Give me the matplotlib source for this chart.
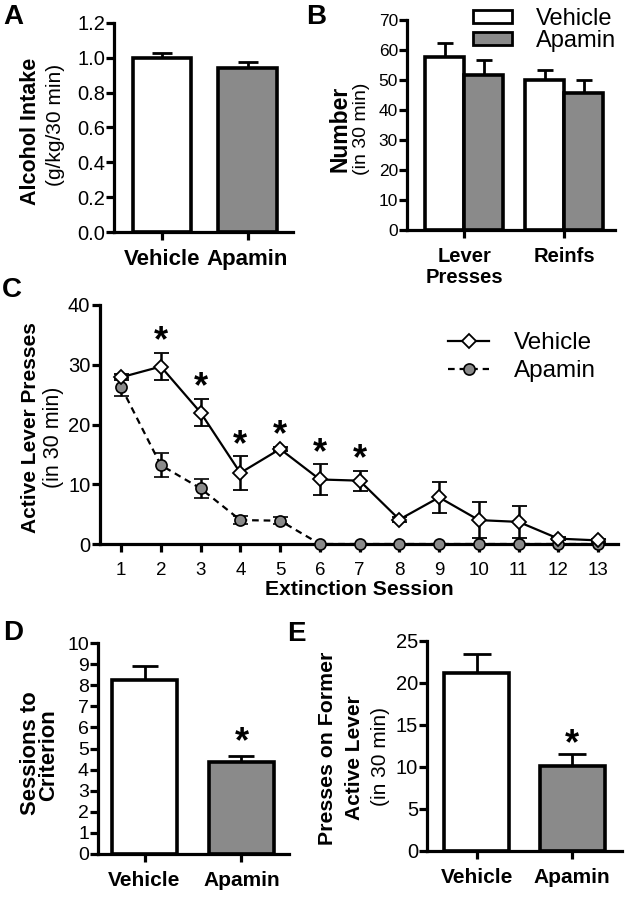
import matplotlib
matplotlib.use('Agg')
import matplotlib.pyplot as plt
import numpy as np
from matplotlib.patches import Patch
from matplotlib.lines import Line2D

plt.rcParams['font.family'] = ['Liberation Sans', 'DejaVu Sans']

# ---------------- data ----------------
A_groups = ['Vehicle', 'Apamin']
A_means = [1.00, 0.94]
A_sem = [0.03, 0.034]

B_categories = ['Lever\nPresses', 'Reinfs']
B_vehicle = [57.6, 49.9]
B_vehicle_sem = [4.8, 3.3]
B_apamin = [51.6, 45.6]
B_apamin_sem = [5.1, 4.3]

C_sessions = [1, 2, 3, 4, 5, 6, 7, 8, 9, 10, 11, 12, 13]
C_vehicle = [27.9, 29.7, 22.0, 11.9, 15.9, 10.8, 10.6, 4.1, 7.8, 4.0, 3.7, 0.9, 0.6]
C_vehicle_sem = [0.5, 2.3, 2.3, 2.8, 0.4, 2.6, 1.7, 0.4, 2.6, 3.0, 2.7, 0.3, 0.3]
C_apamin = [26.3, 13.2, 9.3, 4.0, 3.9, 0, 0, 0, 0, 0, 0, 0, 0]
C_apamin_sem = [1.5, 2.0, 1.6, 0.7, 0.6, 0, 0, 0, 0, 0, 0, 0, 0]
C_significant = [2, 3, 4, 5, 6, 7]

D_groups = ['Vehicle', 'Apamin']
D_means = [8.26, 4.36]
D_sem = [0.67, 0.30]

E_groups = ['Vehicle', 'Apamin']
E_means = [21.2, 10.1]
E_sem = [2.3, 1.4]

# ---------------- figure ----------------
W, H = 628, 900
fig = plt.figure(figsize=(W / 100, H / 100), dpi=100)
GRAY = '#8a8a8a'
LW = 2.3
BLW = 2.6


def add_ax(x0, y0, x1, y1):
    return fig.add_axes([x0 / W, 1 - y1 / H, (x1 - x0) / W, (y1 - y0) / H])


def style(ax, ysize):
    for s in ['top', 'right']:
        ax.spines[s].set_visible(False)
    for s in ['left', 'bottom']:
        ax.spines[s].set_linewidth(LW)
    ax.tick_params(axis='y', direction='out', length=5.5, width=LW, labelsize=ysize, pad=1)
    ax.tick_params(axis='x', direction='out', length=6, width=LW, pad=6)


def ftext(x, y, s, **kw):
    fig.text(x / W, 1 - y / H, s, **kw)


def bar_panel(ax, groups, means, sem, capsize, width, xsize):
    x = np.arange(len(groups))
    ax.bar(x, means, width=width, color=['white', GRAY], edgecolor='black',
           linewidth=BLW, zorder=2)
    ax.errorbar(x, means, yerr=[np.zeros(len(means)), sem], fmt='none', ecolor='black',
                elinewidth=2.0, capsize=capsize, capthick=2.0, zorder=1)
    ax.set_xticks(x)
    ax.set_xticklabels(groups, fontsize=xsize, fontweight='bold')
    return x


# ---- Panel A ----
axA = add_ax(114, 23, 293, 232)
style(axA, 14.5)
bar_panel(axA, A_groups, A_means, A_sem, 7, 0.68, 16)
axA.set_ylim(0, 1.2)
axA.set_yticks(np.arange(0, 1.21, 0.2))
axA.set_yticklabels(['%.1f' % v for v in np.arange(0, 1.21, 0.2)])
axA.set_xlim(-0.56, 1.53)
ftext(30, 131, 'Alcohol Intake', rotation=90, ha='center', va='center', fontsize=15.5, fontweight='bold')
ftext(56, 125, '(g/kg/30 min)', rotation=90, ha='center', va='center', fontsize=15)

# ---- Panel B ----
axB = add_ax(407, 20, 615, 230)
style(axB, 12.5)
xB = np.arange(len(B_categories))
bw = 0.39
axB.bar(xB - bw / 2, B_vehicle, width=bw, color='white', edgecolor='black', linewidth=BLW, zorder=2)
axB.bar(xB + bw / 2, B_apamin, width=bw, color=GRAY, edgecolor='black', linewidth=BLW, zorder=2)
axB.errorbar(xB - bw / 2, B_vehicle, yerr=[np.zeros(2), B_vehicle_sem], fmt='none', ecolor='black',
             elinewidth=2.0, capsize=6, capthick=2.0, zorder=1)
axB.errorbar(xB + bw / 2, B_apamin, yerr=[np.zeros(2), B_apamin_sem], fmt='none', ecolor='black',
             elinewidth=2.0, capsize=6, capthick=2.0, zorder=1)
axB.set_ylim(0, 70)
axB.set_yticks(np.arange(0, 71, 10))
axB.set_xlim(-0.57, 1.505)
axB.set_xticks(xB)
axB.set_xticklabels(B_categories, fontsize=14.5, fontweight='bold', linespacing=1.15)
axB.tick_params(axis='x', pad=6)
ftext(340, 129, 'Number', rotation=90, ha='center', va='center', fontsize=16.5, fontweight='bold')
ftext(361, 129, '(in 30 min)', rotation=90, ha='center', va='center', fontsize=14)
hB = [Patch(facecolor='white', edgecolor='black', linewidth=2.0),
      Patch(facecolor=GRAY, edgecolor='black', linewidth=2.0)]
axB.legend(hB, ['Vehicle', 'Apamin'], loc='upper left', bbox_to_anchor=(473 / W, 1 - 8 / H),
           bbox_transform=fig.transFigure, frameon=False, fontsize=17, handlelength=1.65,
           handleheight=0.5, handletextpad=1.0, labelspacing=0.0, borderpad=0, borderaxespad=0)

# ---- Panel C ----
axC = add_ax(100, 305, 618, 544)
style(axC, 14.5)
axC.tick_params(axis='x', labelsize=13.5, length=6, pad=7)
axC.tick_params(axis='y', length=6)
axC.errorbar(C_sessions, C_apamin, yerr=C_apamin_sem, fmt='--o', color='black', lw=1.6,
             dashes=(3, 2.2), markersize=8, markerfacecolor=GRAY, markeredgecolor='black',
             markeredgewidth=1.2, elinewidth=1.8, capsize=5.4, capthick=1.8, clip_on=False,
             zorder=3, label='Apamin')
axC.errorbar(C_sessions, C_vehicle, yerr=C_vehicle_sem, fmt='-D', color='black', lw=1.6,
             markersize=7, markerfacecolor='white', markeredgecolor='black',
             markeredgewidth=1.3, elinewidth=1.8, capsize=5.4, capthick=1.8, clip_on=False,
             zorder=4, label='Vehicle')
axC.set_ylim(0, 40)
axC.set_yticks([0, 10, 20, 30, 40])
axC.set_xlim(0.47, 13.5)
axC.set_xticks(C_sessions)
axC.set_xlabel('Extinction Session', fontsize=15.2, fontweight='bold', labelpad=1)
for s in C_significant:
    i = C_sessions.index(s)
    axC.text(s, C_vehicle[i] + C_vehicle_sem[i] + 1.8, '*', ha='center', va='center',
             fontsize=26, fontweight='bold')
ftext(31, 428, 'Active Lever Presses', rotation=90, ha='center', va='center', fontsize=15,
      fontweight='bold')
ftext(54, 437, '(in 30 min)', rotation=90, ha='center', va='center', fontsize=15.5)
hC = [Line2D([], [], color='black', lw=1.6, marker='D', markersize=7, markerfacecolor='white',
             markeredgecolor='black', markeredgewidth=1.3),
      Line2D([], [], color='black', lw=1.6, ls='--', dashes=(3, 2.2), marker='o', markersize=8,
             markerfacecolor=GRAY, markeredgecolor='black', markeredgewidth=1.2)]
axC.legend(hC, ['Vehicle', 'Apamin'], loc='upper left', bbox_to_anchor=(448 / W, 1 - 332 / H),
           bbox_transform=fig.transFigure, frameon=False, fontsize=17.5, handlelength=1.7,
           handletextpad=1.0, labelspacing=0.25, borderpad=0, borderaxespad=0)

# ---- Panel D ----
axD = add_ax(98, 643, 289, 854)
style(axD, 14)
xD = bar_panel(axD, D_groups, D_means, D_sem, 9.5, 0.67, 15)
axD.set_ylim(0, 10)
axD.set_yticks(np.arange(0, 11, 1))
axD.set_xlim(-0.48, 1.49)
axD.text(xD[1], D_means[1] + D_sem[1] + 0.62, '*', ha='center', va='center', fontsize=26,
         fontweight='bold')
ftext(30, 753, 'Sessions to', rotation=90, ha='center', va='center', fontsize=15.8, fontweight='bold')
ftext(49, 755, 'Criterion', rotation=90, ha='center', va='center', fontsize=15.8, fontweight='bold')

# ---- Panel E ----
axE = add_ax(427, 641, 622, 851)
style(axE, 14.5)
xE = bar_panel(axE, E_groups, E_means, E_sem, 10, 0.68, 15)
axE.set_ylim(0, 25)
axE.set_yticks(np.arange(0, 26, 5))
axE.set_xlim(-0.52, 1.52)
axE.text(xE[1], E_means[1] + E_sem[1] + 1.2, '*', ha='center', va='center', fontsize=26,
         fontweight='bold')
ftext(327, 748, 'Presses on Former', rotation=90, ha='center', va='center', fontsize=15.3,
      fontweight='bold')
ftext(355, 758, 'Active Lever', rotation=90, ha='center', va='center', fontsize=15,
      fontweight='bold')
ftext(381, 756, '(in 30 min)', rotation=90, ha='center', va='center', fontsize=15)

# ---- panel letters ----
for lbl, (px, py) in {'A': (13, 17), 'B': (316, 17), 'C': (12, 290), 'D': (13, 633),
                      'E': (296, 634)}.items():
    ftext(px, py, lbl, ha='center', va='center', fontsize=20, fontweight='bold')

fig.savefig('out.png', dpi=100)
